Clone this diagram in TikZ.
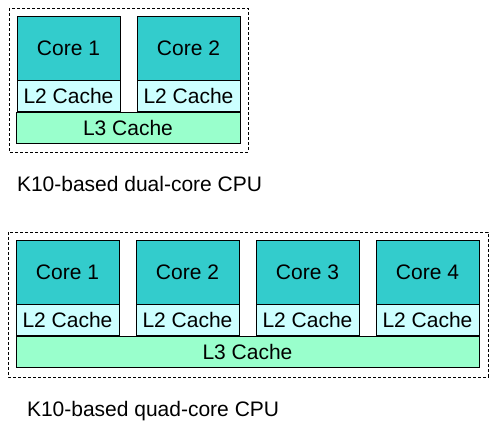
\documentclass[tikz,border=0pt]{standalone}
\usepackage{fontspec}
\setmainfont{Liberation Sans}
\definecolor{corefill}{HTML}{33CCCC}
\definecolor{ltwofill}{HTML}{CCFFFF}
\definecolor{lthreefill}{HTML}{99FFCC}
\begin{document}
\begin{tikzpicture}[x=1pt,y=-1pt,
  every node/.style={font=\fontsize{21}{25}\selectfont, inner sep=0pt, outer sep=0pt},
  box/.style={draw=black, line width=0.9pt, anchor=north west},
  corebox/.style={box, fill=corefill, minimum width=103pt, minimum height=64pt},
  ltwobox/.style={box, fill=ltwofill, minimum width=103pt, minimum height=31pt},
  lthreebox/.style={box, fill=lthreefill, minimum height=31pt},
  frame/.style={draw=black, line width=0.8pt, dash pattern=on 3pt off 2pt},
  caption/.style={anchor=base west}]
\useasboundingbox (0,0) rectangle (494,427);
% dual-core
\draw[frame] (9,8) rectangle (248,152);
\node[corebox] (dc1) at (17,16) {Core 1};
\node[ltwobox] (dl1) at (17,80) {L2 Cache};
\node[corebox] (dc2) at (137,16) {Core 2};
\node[ltwobox] (dl2) at (137,80) {L2 Cache};
\node[lthreebox, minimum width=224pt] (dl3) at (16,112) {L3 Cache};
\node[caption] (dcap) at (17,192) {K10-based dual-core CPU};
% quad-core
\draw[frame] (8,232) rectangle (488,377);
\node[corebox] (qc1) at (16,240) {Core 1};
\node[ltwobox] (ql1) at (16,304) {L2 Cache};
\node[corebox] (qc2) at (136,240) {Core 2};
\node[ltwobox] (ql2) at (136,304) {L2 Cache};
\node[corebox] (qc3) at (256,240) {Core 3};
\node[ltwobox] (ql3) at (256,304) {L2 Cache};
\node[corebox] (qc4) at (376,240) {Core 4};
\node[ltwobox] (ql4) at (376,304) {L2 Cache};
\node[lthreebox, minimum width=463pt] (ql3c) at (16,336) {L3 Cache};
\node[caption] (qcap) at (27,416) {K10-based quad-core CPU};
\end{tikzpicture}
\end{document}
